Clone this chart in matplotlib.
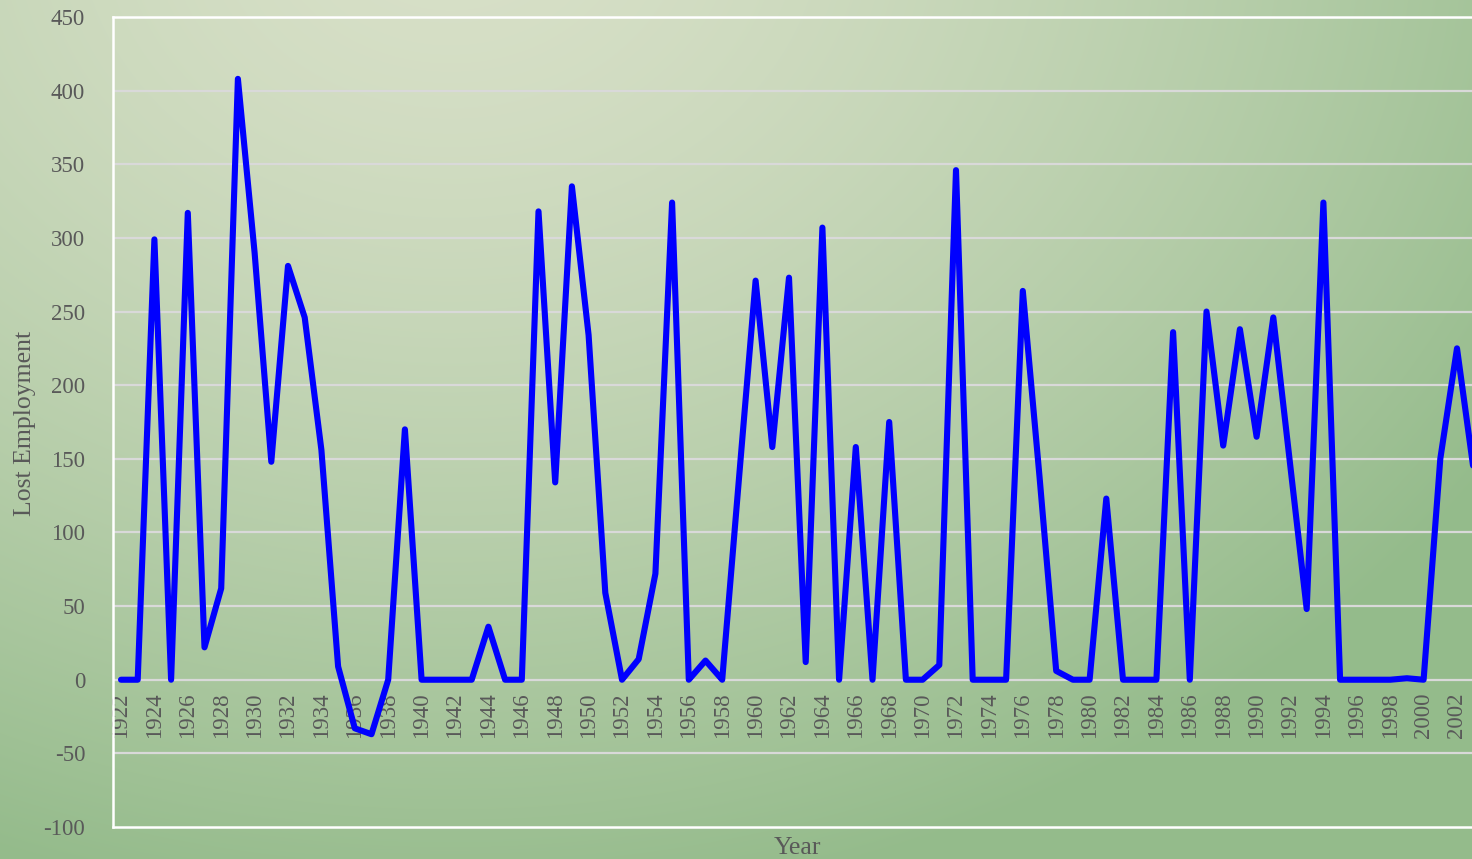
"""Lost employment per year, 1922-2003, drawn as a single blue line."""

import matplotlib

matplotlib.use("Agg")
import matplotlib.pyplot as plt
import numpy as np
from matplotlib.colors import to_rgb

years = list(range(1922, 2004))
lost_employment = [
    0, 0, 299, 0, 317, 22, 62, 408, 290, 148,
    281, 246, 156, 9, -33, -37, 0, 170, 0, 0,
    0, 0, 36, 0, 0, 318, 134, 335, 234, 59,
    0, 14, 72, 324, 0, 13, 0, 136, 271, 158,
    273, 12, 307, 0, 158, 0, 175, 0, 0, 10,
    346, 0, 0, 0, 264, 138, 6, 0, 0, 123,
    0, 0, 0, 236, 0, 250, 159, 238, 165, 246,
    147, 48, 324, 0, 0, 0, 0, 1, 0, 150,
    225, 142,
]
y_ticks = list(range(-100, 451, 50))

W, H = 1472, 859
TEXT_COLOR = "#595959"
LIGHT_BG = "#d8e0c8"
GREEN_BG = "#94bb8b"

plt.rcParams["font.family"] = ["Liberation Serif", "DejaVu Serif"]
plt.rcParams["axes.unicode_minus"] = False


def gradient_image() -> np.ndarray:
    """Soft radial fill, light near the top left, green elsewhere."""
    yy, xx = np.mgrid[0:H, 0:W]
    t = np.sqrt(((xx - 450) / 1250.0) ** 2 + ((yy + 80) / 1000.0) ** 2)
    t = np.clip(t, 0, 1) ** 1.5
    c0 = np.array(to_rgb(LIGHT_BG))
    c1 = np.array(to_rgb(GREEN_BG))
    return c0 + (c1 - c0) * t[..., None]


def main() -> None:
    fig = plt.figure(figsize=(W / 100, H / 100), dpi=100)

    bg = fig.add_axes([0, 0, 1, 1], zorder=0)
    bg.imshow(gradient_image(), aspect="auto", extent=(0, 1, 0, 1))
    bg.axis("off")

    left, right, top, bottom = 113, 1480, 17, 827
    ax = fig.add_axes(
        [left / W, 1 - bottom / H, (right - left) / W, (bottom - top) / H],
        zorder=1,
    )
    ax.patch.set_alpha(0)

    px_per_year = 16.7
    x0 = years[0] - (121 - left) / px_per_year
    ax.set_xlim(x0, x0 + (right - left) / px_per_year)
    ax.set_ylim(y_ticks[0], y_ticks[-1])

    for v in y_ticks[1:-1]:
        ax.axhline(v, color="#d9d9d9", lw=1.6, zorder=1)

    for side in ["top", "bottom", "left", "right"]:
        ax.spines[side].set_color("white")
        ax.spines[side].set_linewidth(1.8)

    ax.set_xticks([])
    ax.set_yticks(y_ticks)
    ax.tick_params(axis="y", length=0, pad=20, labelsize=16.5, labelcolor=TEXT_COLOR)

    for yr in years[::2]:
        ax.annotate(
            str(yr), (yr, 0), xytext=(0, -9), textcoords="offset points",
            rotation=90, ha="center", va="top", fontsize=16.5, color=TEXT_COLOR,
            zorder=2, annotation_clip=False,
        )

    ax.plot(years, lost_employment, color="#0000ff", lw=4.4,
            solid_joinstyle="round", solid_capstyle="round", zorder=3)

    fig.text(25 / W, 1 - 423 / H, "Lost Employment", rotation=90,
             ha="center", va="center", fontsize=18.5, color=TEXT_COLOR)
    fig.text(797 / W, 1 - 837 / H, "Year", ha="center", va="top",
             fontsize=18.5, color=TEXT_COLOR)

    fig.savefig("out.png", dpi=100)
    plt.close(fig)


if __name__ == "__main__":
    main()
